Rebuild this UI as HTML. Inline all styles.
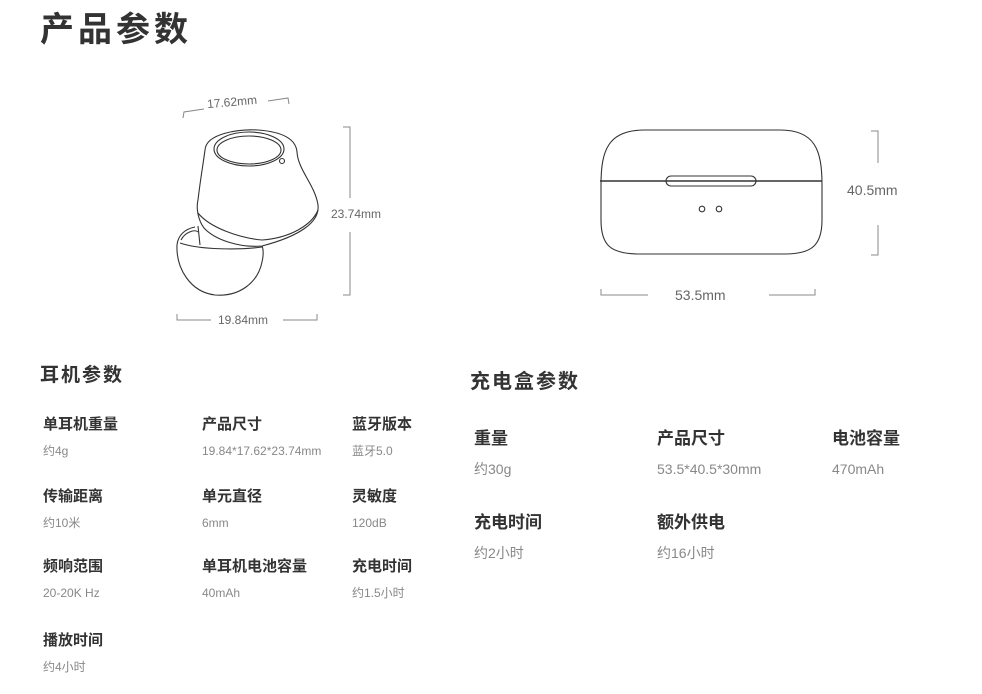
<!DOCTYPE html>
<html><head><meta charset="utf-8"><style>
body{margin:0;width:982px;height:694px;background:#fff;position:relative;overflow:hidden;font-family:"Liberation Sans","Noto Sans CJK SC",sans-serif;color:#222}
.t{position:absolute;white-space:nowrap;line-height:1}
.h1{font-size:34px;font-weight:bold;letter-spacing:4px;color:#333}
.h2{font-size:19px;font-weight:bold;letter-spacing:2px;color:#333}
.l{font-size:15px;font-weight:bold;color:#333}
.v{font-size:12px;color:#888}
.l2{font-size:17px;font-weight:bold;color:#333}
.v2{font-size:14px;color:#888}
svg{position:absolute;left:0;top:0}
</style></head><body>
<svg width="982" height="694" viewBox="0 0 982 694" fill="none" stroke="#333" stroke-width="1.1">
<path d="M205,150 C206,133 240,129 258,130 C285,132 296,140 297,152 C298,170 315,185 318,205 C320,222 300,236 262,246 C240,248 215,240 204,228 C198,220 196,208 198,200 C200,182 203,165 205,150 Z"/>
<path d="M198,213 C210,228 240,238 262,240 C290,238 312,225 318,210"/>
<ellipse cx="249" cy="149" rx="35" ry="17"/>
<ellipse cx="249" cy="150" rx="32" ry="14"/>
<circle cx="282" cy="161" r="2.5"/>
<path d="M198,226 L200,245"/>
<path d="M195,227 C185,229 178,235 177,245 C176,268 190,292 215,295 C240,297 258,282 262,262 C264,254 263,248 262,246"/>
<path d="M181,240 C185,232 195,229 198,232"/>
<path d="M180,243 C200,250 240,250 262,247"/>
<g stroke="#888" stroke-width="1">
<path d="M183,118 L184,112 L204,109 M268,101 L288,98 L289,104"/>
<path d="M343,127 L350,127 L350,198 M350,232 L350,295 L343,295"/>
<path d="M177,314 L177,320 L211,320 M283,320 L317,320 L317,314"/>
<path d="M871,131 L878,131 L878,163 M878,225 L878,255 L871,255"/>
<path d="M601,289 L601,295 L648,295 M769,295 L815,295 L815,289"/>
</g>
<path d="M645,130 L780,130 C815,130 822,150 822,185 L822,220 C822,245 812,254 785,254 L640,254 C610,254 601,245 601,220 L601,185 C601,150 608,130 645,130 Z"/>
<line x1="600" y1="181" x2="822" y2="181" stroke-width="1.6"/>
<rect x="666" y="176" width="90" height="10" rx="5"/>
<circle cx="702" cy="209" r="2.8"/>
<circle cx="719" cy="209" r="2.8"/>
</svg>
<div class="t" style="left:207px;top:96px;font-size:12px;color:#666;transform:rotate(-5deg)">17.62mm</div>
<div class="t" style="left:331px;top:208px;font-size:12px;color:#666">23.74mm</div>
<div class="t" style="left:218px;top:314px;font-size:12px;color:#666">19.84mm</div>
<div class="t" style="left:847px;top:183px;font-size:14px;color:#666">40.5mm</div>
<div class="t" style="left:675px;top:288px;font-size:14px;color:#666">53.5mm</div>

<div class="t h1" style="left:40px;top:13px">产品参数</div>
<div class="t h2" style="left:40px;top:366px">耳机参数</div>
<div class="t h2" style="left:470px;top:372px;font-size:20px">充电盒参数</div>

<div class="t l" style="left:43px;top:417px">单耳机重量</div>
<div class="t v" style="left:43px;top:445px">约4g</div>
<div class="t l" style="left:202px;top:417px">产品尺寸</div>
<div class="t v" style="left:202px;top:445px">19.84*17.62*23.74mm</div>
<div class="t l" style="left:352px;top:417px">蓝牙版本</div>
<div class="t v" style="left:352px;top:445px">蓝牙5.0</div>

<div class="t l" style="left:43px;top:489px">传输距离</div>
<div class="t v" style="left:43px;top:517px">约10米</div>
<div class="t l" style="left:202px;top:489px">单元直径</div>
<div class="t v" style="left:202px;top:517px">6mm</div>
<div class="t l" style="left:352px;top:489px">灵敏度</div>
<div class="t v" style="left:352px;top:517px">120dB</div>

<div class="t l" style="left:43px;top:559px">频响范围</div>
<div class="t v" style="left:43px;top:587px">20-20K Hz</div>
<div class="t l" style="left:202px;top:559px">单耳机电池容量</div>
<div class="t v" style="left:202px;top:587px">40mAh</div>
<div class="t l" style="left:352px;top:559px">充电时间</div>
<div class="t v" style="left:352px;top:587px">约1.5小时</div>

<div class="t l" style="left:43px;top:633px">播放时间</div>
<div class="t v" style="left:43px;top:661px">约4小时</div>

<div class="t l2" style="left:474px;top:430px">重量</div>
<div class="t v2" style="left:474px;top:462px">约30g</div>
<div class="t l2" style="left:657px;top:430px">产品尺寸</div>
<div class="t v2" style="left:657px;top:462px">53.5*40.5*30mm</div>
<div class="t l2" style="left:832px;top:430px">电池容量</div>
<div class="t v2" style="left:832px;top:462px">470mAh</div>
<div class="t l2" style="left:474px;top:514px">充电时间</div>
<div class="t v2" style="left:474px;top:546px">约2小时</div>
<div class="t l2" style="left:657px;top:514px">额外供电</div>
<div class="t v2" style="left:657px;top:546px">约16小时</div>
</body></html>
